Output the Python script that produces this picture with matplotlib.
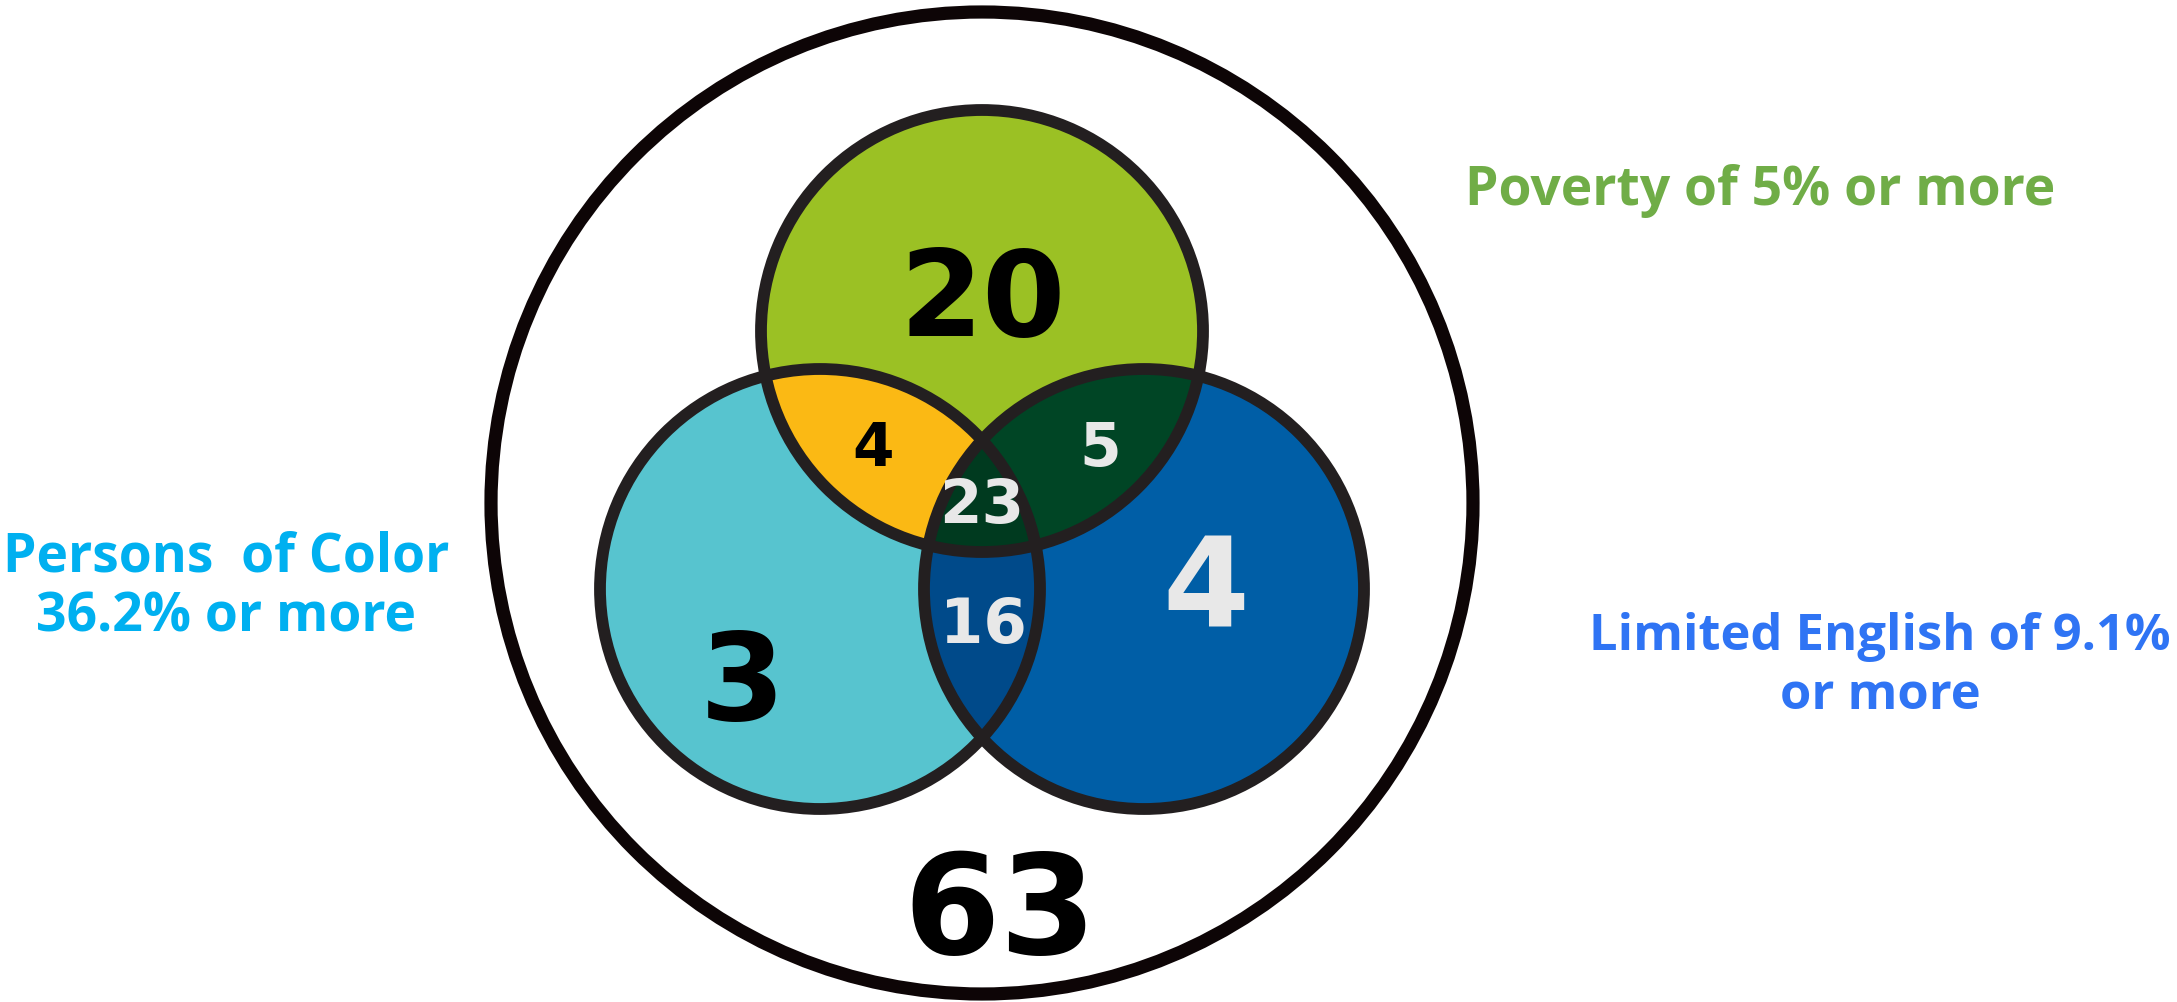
import numpy as np
import matplotlib
matplotlib.use("Agg")
import matplotlib.pyplot as plt
from matplotlib.patches import Circle, Polygon

# set sizes (region counts)
only_poverty = 20
only_color = 3
only_english = 4
poverty_color = 4
poverty_english = 5
color_english = 16
all_three = 23
none = 63

labels = ["Poverty of 5% or more",
          "Persons  of Color\n36.2% or more",
          "Limited English of 9.1%\nor more"]

# geometry in pixel units (figure is 2177 x 1002 px)
W, H = 2177, 1002
outer = (982, 503, 491)
c_pov = (982, 331, 221)
c_col = (820, 589, 220)
c_eng = (1144, 589, 220)

col_pov = "#9bc124"
col_col = "#57c4cf"
col_eng = "#005ea6"
col_pov_col = "#fbb914"
col_pov_eng = "#004525"
col_col_eng = "#004a8a"
col_all = "#003a1f"
edge = "#231f20"

fig = plt.figure(figsize=(W / 100, H / 100), dpi=100)
ax = fig.add_axes([0, 0, 1, 1])
ax.set_xlim(0, W)
ax.set_ylim(H, 0)
ax.axis("off")

def circ(c, **kw):
    return Circle((c[0], c[1]), c[2], **kw)

# outer ring
ax.add_patch(circ(outer, facecolor="white", edgecolor="#0d0506", lw=9.5, zorder=1))

# single fills
for c, fc in [(c_col, col_col), (c_eng, col_eng), (c_pov, col_pov)]:
    ax.add_patch(circ(c, facecolor=fc, edgecolor="none", zorder=2))

# pairwise overlaps via clipping
def overlap(a, b, fc):
    clip = circ(b, transform=ax.transData)
    p = circ(a, facecolor=fc, edgecolor="none", zorder=3)
    ax.add_patch(p)
    p.set_clip_path(clip)

overlap(c_pov, c_col, col_pov_col)
overlap(c_pov, c_eng, col_pov_eng)
overlap(c_col, c_eng, col_col_eng)

# triple overlap: lens of color/english clipped to poverty circle
xc, yc, r = c_col
xe, ye, _ = c_eng
half = (xe - xc) / 2
th = np.arccos(half / r)
t = np.linspace(-th, th, 200)
arc1 = np.column_stack([xc + r * np.cos(t), yc + r * np.sin(t)])
t2 = np.linspace(np.pi - th, np.pi + th, 200)
arc2 = np.column_stack([xe + r * np.cos(t2), ye - r * np.sin(t2)])
lens = Polygon(np.vstack([arc1, arc2]), closed=True, facecolor=col_all,
               edgecolor="none", zorder=4)
ax.add_patch(lens)
lens.set_clip_path(circ(c_pov, transform=ax.transData))

# outlines
for c in [c_col, c_eng, c_pov]:
    ax.add_patch(circ(c, facecolor="none", edgecolor=edge, lw=8.5, zorder=5))

dark, light = "black", "#e8e8e8"

def num(x, y, v, size, color):
    # small downward nudge so digits sit where the reference has them
    ax.text(x, y + 0.11 * size, str(v), fontsize=size, color=color,
            family="DejaVu Sans", weight="bold", ha="center", va="center", zorder=6)

num(983, 294, only_poverty, 86, dark)
num(742, 677, only_color, 88, dark)
num(1206, 583, only_english, 90, light)
num(873, 445, poverty_color, 43, dark)
num(1100, 445, poverty_english, 43, light)
num(983, 621, color_english, 45, light)
num(982, 502, all_three, 44, light)
num(1000, 905, none, 100, dark)

lab_font = dict(family="Open Sans", weight="bold", ha="center", va="baseline",
                multialignment="center")
ax.text(1760, 205, labels[0], fontsize=38.5, color="#70ad47", linespacing=1.15, **lab_font)
ax.text(226, 632, labels[1], fontsize=38.5, color="#00b0f0", linespacing=1.15, **lab_font)
ax.text(1880, 709, labels[2], fontsize=36.5, color="#2f74f4", linespacing=1.24, **lab_font)

fig.savefig("out.png", dpi=100, facecolor="white")
